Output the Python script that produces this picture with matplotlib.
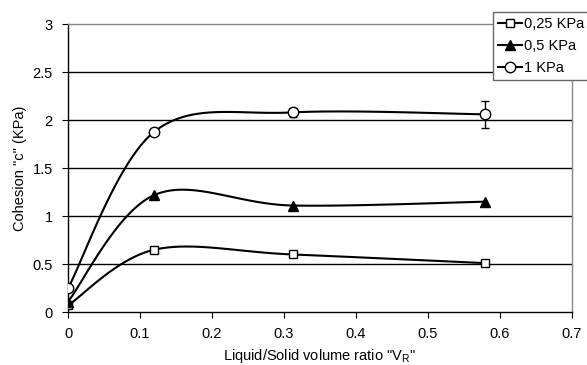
import matplotlib
matplotlib.use("Agg")
import matplotlib.pyplot as plt
import numpy as np

plt.rcParams['font.family'] = ['Liberation Sans', 'DejaVu Sans']

# data
vr = [0.0, 0.12, 0.312, 0.58]
c_025 = [0.07, 0.65, 0.60, 0.51]
c_05 = [0.11, 1.22, 1.11, 1.15]
c_1 = [0.25, 1.88, 2.08, 2.06]
err_1 = [0.0, 0.0, 0.05, 0.14]
labels = ['0,25 KPa', '0,5 KPa', '1 KPa']


def smooth(x, y, sx=7200.0, sy=96.0, n=40):
    # excel-like smoothed line: catmull-rom bezier in screen-ish units
    p = np.column_stack([np.asarray(x) * sx, np.asarray(y) * sy])
    out = []
    for i in range(len(p) - 1):
        p0 = p[i - 1] if i > 0 else p[i]
        p3 = p[i + 2] if i + 2 < len(p) else p[i + 1]
        p1, p2 = p[i], p[i + 1]
        c1 = p1 + (p2 - p0) / 6.0
        c2 = p2 - (p3 - p1) / 6.0
        t = np.linspace(0, 1, n)[:, None]
        seg = ((1 - t) ** 3 * p1 + 3 * (1 - t) ** 2 * t * c1
               + 3 * (1 - t) * t ** 2 * c2 + t ** 3 * p2)
        out.append(seg)
    out = np.vstack(out)
    return out[:, 0] / sx, out[:, 1] / sy


fig = plt.figure(figsize=(5.87, 3.65), dpi=100)
ax = fig.add_axes([0.116, 0.145, 0.858, 0.789])

styles = [
    dict(marker='s', mfc='white', mec='black', ms=6),
    dict(marker='^', mfc='black', mec='black', ms=7),
    dict(marker='o', mfc='white', mec='black', ms=7.5),
]
series = [c_025, c_05, c_1]

for ys, st, lab in zip(series, styles, labels):
    sx, sy = smooth(vr, ys)
    ax.plot(sx, sy, color='black', lw=1.5, zorder=3)
    ax.plot(vr, ys, ls='none', mew=1.0, zorder=4, **st)
    ax.plot([], [], color='black', lw=1.5, label=lab, **st)

ax.errorbar(vr[2:], c_1[2:], yerr=err_1[2:], fmt='none', ecolor='black',
            elinewidth=1, capsize=3, capthick=1, zorder=2)

ax.set_xlim(0, 0.7)
ax.set_ylim(0, 3)
ax.set_xticks(np.arange(0, 0.71, 0.1))
ax.set_xticklabels(['0', '0.1', '0.2', '0.3', '0.4', '0.5', '0.6', '0.7'])
ax.set_yticks([0, 0.5, 1, 1.5, 2, 2.5, 3])
ax.set_yticklabels(['0', '0.5', '1', '1.5', '2', '2.5', '3'])
ax.tick_params(labelsize=10.5, length=4, direction='out', color='black', pad=7)

for yv in [0.5, 1, 1.5, 2, 2.5]:
    ax.axhline(yv, color='black', lw=1, zorder=1)
ax.spines['top'].set_color('#888888')
ax.spines['right'].set_color('#888888')
ax.spines['left'].set_color('black')
ax.spines['bottom'].set_color('black')
for s in ax.spines.values():
    s.set_linewidth(1)

ax.set_ylabel('Cohesion "c" (KPa)', fontsize=10.5)
ax.set_xlabel('Liquid/Solid volume ratio "V$_{\\mathregular{R}}$"', fontsize=10.5, labelpad=4)

leg = fig.legend(loc='upper right', bbox_to_anchor=(1.004, 0.968), fontsize=10.5,
                 fancybox=False, edgecolor='#666666', framealpha=1,
                 handlelength=1.6, handletextpad=0.15, borderpad=0.35,
                 labelspacing=0.55, borderaxespad=0)
leg.get_frame().set_linewidth(1)

fig.savefig('out.png', dpi=100)
